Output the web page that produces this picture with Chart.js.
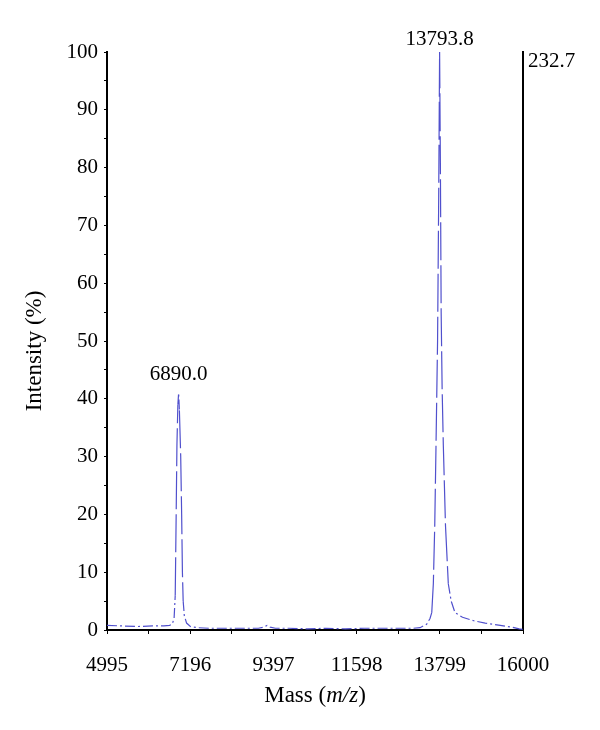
<!DOCTYPE html>
<html><head><meta charset="utf-8">
<script src="https://cdn.jsdelivr.net/npm/chart.js@4/dist/chart.umd.min.js"></script>
<style>html,body{margin:0;padding:0;background:#fff}#wrap{width:600px;height:730px;position:relative}</style>
</head><body><div id="wrap"><canvas id="c" width="600" height="730"></canvas></div>
<script>
// ---- data ----
const masses = [4995, 5400, 5800, 6200, 6500, 6650, 6720, 6770, 6800, 6825, 6845, 6870, 6890, 6910, 6945, 6970, 6990, 7010, 7040, 7100, 7200, 7400, 7700, 8100, 8600, 9000, 9150, 9230, 9310, 9450, 9800, 10300, 10800, 11300, 11800, 12300, 12800, 13100, 13276, 13450, 13540, 13586, 13628, 13665, 13699, 13740, 13770, 13793.8, 13815, 13835, 13860, 13892, 13950, 14024, 14100, 14201, 14400, 14700, 15000, 15400, 15700, 15900, 16000];
const intensities = [0.8, 0.7, 0.6, 0.7, 0.7, 0.8, 1.0, 2, 6, 20, 32, 39, 41, 38, 30, 20, 10, 5, 2.5, 1.2, 0.6, 0.4, 0.3, 0.3, 0.3, 0.3, 0.5, 0.8, 0.5, 0.3, 0.3, 0.2, 0.3, 0.2, 0.3, 0.3, 0.3, 0.3, 0.4, 1.0, 2, 3, 8, 18, 32, 50, 75, 100, 80, 55, 42, 32, 18, 8, 5, 3, 2.2, 1.6, 1.2, 0.8, 0.5, 0.2, 0.1];
const xTickValues = [4995, 7196, 9397, 11598, 13799, 16000];
const yTickValues = [0, 10, 20, 30, 40, 50, 60, 70, 80, 90, 100];
const peakMasses = [6890.0, 13793.8];
const peakIntensities = [41, 100];
const peakLabels = ['6890.0', '13793.8'];
const rightAxisMax = 232.7;
const xTitleParts = [['Mass (', 'normal'], ['m/z', 'italic'], [')', 'normal']];
const yTitle = 'Intensity (%)';

const FONT = '"Liberation Serif", "DejaVu Serif", serif';
const FS = 21;
const TFS = 23;
const LINE = 'rgb(80,80,205)';

function withMinors(vals) {
  const out = [];
  for (let i = 0; i < vals.length; i++) {
    out.push({value: vals[i], major: true});
    if (i < vals.length - 1) out.push({value: (vals[i] + vals[i + 1]) / 2, major: false});
  }
  return out;
}

const annot = {
  id: 'annot',
  afterDraw(chart) {
    const {ctx, scales: {x, y}, chartArea} = chart;
    ctx.save();
    ctx.fillStyle = '#000';
    ctx.textAlign = 'center';
    ctx.textBaseline = 'alphabetic';
    ctx.font = FS + 'px ' + FONT;
    for (let i = 0; i < peakMasses.length; i++) {
      const px = x.getPixelForValue(peakMasses[i]);
      let py = y.getPixelForValue(peakIntensities[i]) - 13;
      if (py < chartArea.top - 7) py = py; else py = Math.min(py, chartArea.top - 7 + (y.getPixelForValue(peakIntensities[i]) - chartArea.top));
      if (peakIntensities[i] >= 100) py = chartArea.top - 7;
      ctx.fillText(peakLabels[i], px, py);
    }
    // x title with italic part
    let total = 0;
    const widths = xTitleParts.map(([t, s]) => { ctx.font = s + ' ' + TFS + 'px ' + FONT; const w = ctx.measureText(t).width; total += w; return w; });
    let sx = (chartArea.left + chartArea.right) / 2 - total / 2;
    ctx.textAlign = 'left';
    xTitleParts.forEach(([t, s], i) => { ctx.font = s + ' ' + TFS + 'px ' + FONT; ctx.fillText(t, sx, 702); sx += widths[i]; });
    // y title
    ctx.font = TFS + 'px ' + FONT;
    ctx.translate(35, 351);
    ctx.rotate(-Math.PI / 2);
    ctx.textAlign = 'center';
    ctx.textBaseline = 'middle';
    ctx.fillText(yTitle, 0, 0);
    ctx.restore();
  }
};

new Chart(document.getElementById('c'), {
  type: 'line',
  data: {
    datasets: [{
      data: masses.map((m, i) => ({x: m, y: intensities[i]})),
      borderColor: LINE,
      borderWidth: 1.2,
      borderDash: [10, 3, 2, 3],
      segment: {
        borderDash: c => Math.abs(c.p1.y - c.p0.y) > 25 ? [38, 5] : [10, 3, 2, 3]
      },
      pointRadius: 0,
      tension: 0,
      fill: false
    }]
  },
  options: {
    responsive: false,
    animation: false,
    events: [],
    layout: {padding: {top: 52, left: 0, right: 0, bottom: 0}},
    plugins: {legend: {display: false}, tooltip: {enabled: false}},
    scales: {
      x: {
        type: 'linear', min: 4995, max: 16000,
        afterBuildTicks: s => { s.ticks = withMinors(xTickValues); },
        afterFit: s => { s.height = 100; },
        grid: {drawOnChartArea: false, drawTicks: true, tickLength: 4, color: '#000', lineWidth: 1},
        border: {color: '#000', width: 2},
        ticks: {autoSkip: false, maxRotation: 0, color: '#000', padding: 19, font: {family: FONT, size: FS},
          callback: (v) => xTickValues.includes(v) ? String(v) : ''}
      },
      y: {
        min: 0, max: 100,
        afterBuildTicks: s => { s.ticks = withMinors(yTickValues); },
        afterFit: s => { s.width = 107; },
        grid: {drawOnChartArea: false, drawTicks: true, tickLength: 3, color: '#000', lineWidth: 1},
        border: {color: '#000', width: 2},
        ticks: {autoSkip: false, color: '#000', padding: 6, font: {family: FONT, size: FS},
          callback: (v) => yTickValues.includes(v) ? String(v) : ''}
      },
      y2: {
        position: 'right', min: 0, max: rightAxisMax,
        afterBuildTicks: s => { s.ticks = [{value: rightAxisMax}]; },
        afterFit: s => { s.width = 77; },
        grid: {display: false, drawTicks: false},
        border: {display: true, color: '#000', width: 2},
        ticks: {autoSkip: false, color: '#000', padding: 5, labelOffset: 9, font: {family: FONT, size: FS},
          callback: (v) => String(v)}
      }
    }
  },
  plugins: [annot]
});
</script></body></html>
